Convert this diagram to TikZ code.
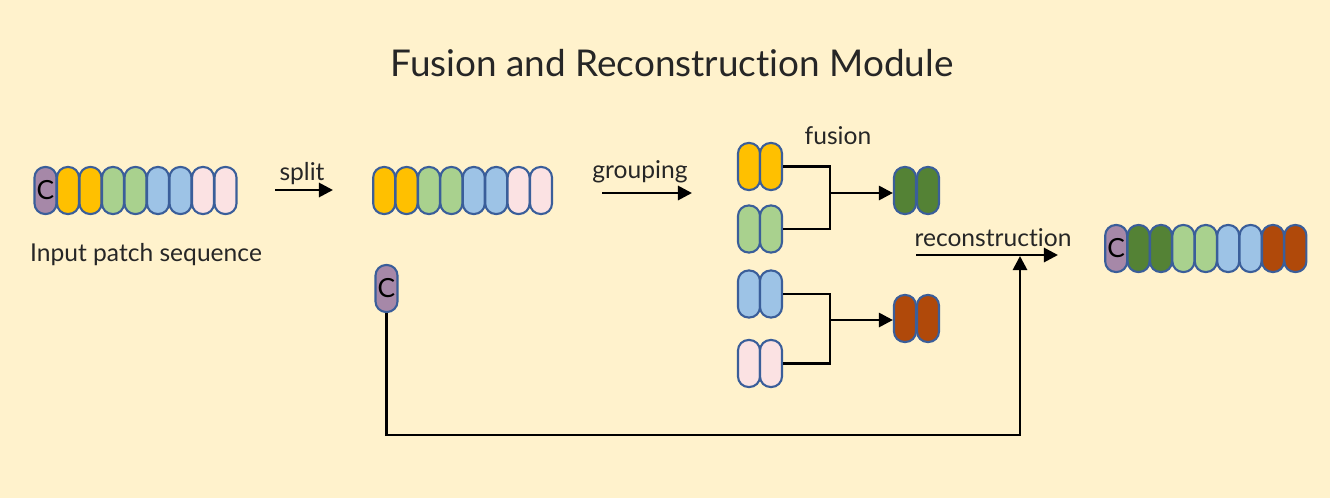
\documentclass[tikz,border=0pt]{standalone}
\usepackage{fontspec}
\setmainfont{Lato}[Ligatures=NoCommon]
\usetikzlibrary{positioning}
\usetikzlibrary{calc}
\usetikzlibrary{arrows.meta}
\definecolor{bgyellow}{HTML}{FFF2CC}
\definecolor{cpurple}{HTML}{A688A8}
\definecolor{cyellow}{HTML}{FFC000}
\definecolor{cgreen}{HTML}{A9D18E}
\definecolor{cblue}{HTML}{9DC3E6}
\definecolor{cpink}{HTML}{FBE2E3}
\definecolor{cdgreen}{HTML}{548235}
\definecolor{cbrown}{HTML}{B0490A}
\definecolor{cedge}{HTML}{3A5E9A}
\tikzset{
	pill/.style={draw=cedge,line width=1.2pt,rounded corners=0.21cm,minimum width=0.44cm,minimum height=0.94cm,inner sep=0pt,font=\fontsize{15}{15}\selectfont},
	lbl/.style={font=\fontsize{14}{16}\selectfont,text=black!85},
	arr/.style={line width=1.6pt,-{Triangle[length=8pt,width=8pt]}},
	conn/.style={line width=1.6pt},
}

\begin{document}
\begin{tikzpicture}[x=0.02cm,y=-0.02cm]
	% background.....................
	\fill [bgyellow] (0,0) rectangle (1330,498);
	
	% title..........................
	\node (title) [font=\fontsize{21}{24}\selectfont,text=black!85] at (672,63) {Fusion and Reconstruction Module};
	
	% input sequence.................
	\node (in0) [pill,fill=cpurple] at (45.5,190.5) {C};
	\foreach \c [count=\i] in {cyellow,cyellow,cgreen,cgreen,cblue,cblue,cpink,cpink}
		\node (in\i) [pill,fill=\c] at (45.5+\i*22.5,190.5) {};
	\node (inlbl) [lbl] at (146,255) {Input patch sequence};
	
	% split arrow....................
	\coordinate (sA) at (275,190);
	\coordinate (sB) at (333,190);
	\draw [arr] (sA) -- (sB);
	\node (split) [lbl] at (302,174) {split};
	
	% split sequence.................
	\foreach \c [count=\i] in {cyellow,cyellow,cgreen,cgreen,cblue,cblue,cpink,cpink}
		\node (sp\i) [pill,fill=\c] at (361.8+\i*22.4,190.5) {};
	\node (cls) [pill,fill=cpurple] at (386.5,288.5) {C};
	
	% grouping arrow.................
	\coordinate (gA) at (602,193);
	\coordinate (gB) at (692,193);
	\draw [arr] (gA) -- (gB);
	\node (grouping) [lbl] at (640,172) {grouping};
	
	% groups.........................
	\foreach \c/\n/\y in {cyellow/ya/166.5,cgreen/gr/229,cblue/bl/294,cpink/pk/363.5}{
		\node (\n1) [pill,fill=\c] at (749,\y) {};
		\node (\n2) [pill,fill=\c] at (771,\y) {};
	}
	\node (fusion) [lbl] at (838,136) {fusion};
	
	% fused pairs....................
	\node (dg1) [pill,fill=cdgreen] at (905,190.5) {};
	\node (dg2) [pill,fill=cdgreen] at (928,190.5) {};
	\node (br1) [pill,fill=cbrown] at (905,318.5) {};
	\node (br2) [pill,fill=cbrown] at (928,318.5) {};
	
	% fusion connectors..............
	\coordinate (jA) at (830,193);
	\coordinate (jB) at (830,320);
	\draw [conn] (ya2.east) -| (jA) |- (gr2.east);
	\draw [conn] (bl2.east) -| (jB) |- (pk2.east);
	\draw [arr] (jA) -- (jA -| dg1.west);
	\draw [arr] (jB) -- (jB -| br1.west);
	
	% reconstruction arrow...........
	\coordinate (rA) at (916,255);
	\coordinate (rB) at (1058,255);
	\draw [arr] (rA) -- (rB);
	\node (recon) [lbl] at (993,238) {reconstruction};
	
	% class token path...............
	\coordinate (loop) at (1020,435);
	\draw [arr] (cls.south) |- (loop) -- ($(loop |- rA)+(0,1)$);
	
	% output sequence................
	\node (out0) [pill,fill=cpurple] at (1116.2,248.5) {C};
	\foreach \c [count=\i] in {cdgreen,cdgreen,cgreen,cgreen,cblue,cblue,cbrown,cbrown}
		\node (out\i) [pill,fill=\c] at (1116.2+\i*22.4,248.5) {};
\end{tikzpicture}
\end{document}
